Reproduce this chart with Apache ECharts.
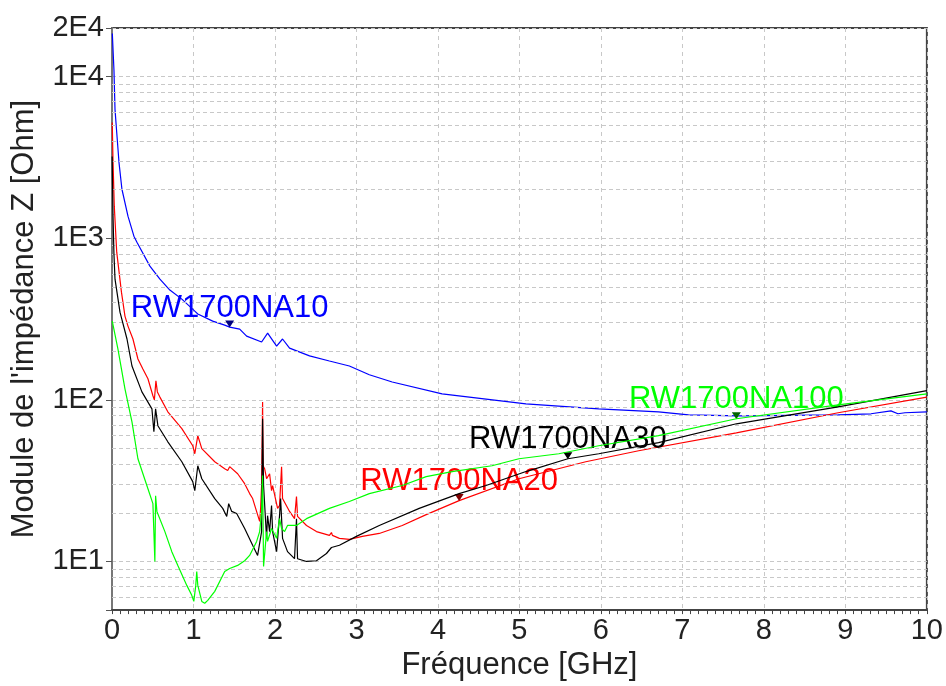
<!DOCTYPE html>
<html><head><meta charset="utf-8">
<script src="https://cdn.jsdelivr.net/npm/echarts@6/dist/echarts.min.js"></script>
<style>html,body{margin:0;padding:0;background:#fff}#c{width:946px;height:686px}</style>
</head><body><div id="c"></div>
<script>
// Frequency [GHz], |Z| [Ohm]
const NA10 = [[0.004,18500],[0.024,11000],[0.037,6250],[0.058,4510],[0.086,2940],[0.122,2010],[0.196,1370],[0.269,1030],[0.306,945],[0.465,672],[0.588,558],[0.71,478],[0.857,420],[1.016,354],[1.053,340],[1.236,307],[1.383,290],[1.444,282],[1.567,274],[1.652,248],[1.836,228],[1.91,259],[2.02,215],[2.093,238],[2.179,209],[2.424,187],[2.668,174],[2.913,162],[3.158,143],[3.439,129],[4.051,109],[5.08,94.5],[5.973,88],[6.707,84.3],[7.075,80.8],[7.687,79.7],[8.911,80.8],[9.315,82],[9.559,85.5],[9.645,82],[9.731,83.2],[10,84.3]];
const NA20 = [[0.003,5200],[0.012,3070],[0.028,1580],[0.058,820],[0.116,464],[0.159,330],[0.196,286],[0.257,238],[0.318,179],[0.379,155],[0.441,135],[0.502,106],[0.52,100],[0.539,131],[0.557,112],[0.588,104],[0.685,84.3],[0.857,66.3],[0.991,52],[1.016,46.4],[1.053,60],[1.102,49.9],[1.261,41.4],[1.383,37.5],[1.42,36.5],[1.444,38.6],[1.542,34.9],[1.628,30.3],[1.689,26.3],[1.726,24.5],[1.812,17.7],[1.824,21.3],[1.836,29.5],[1.848,97],[1.854,39.1],[1.873,37.5],[1.897,32.5],[1.934,34.9],[1.958,27.4],[1.971,29.5],[2.032,21.3],[2.056,22.2],[2.081,38.6],[2.093,24.5],[2.179,20.4],[2.24,18.4],[2.264,25.2],[2.277,19],[2.387,16.7],[2.509,15.3],[2.668,14.5],[2.693,15.1],[2.705,14.5],[2.791,13.9],[2.913,13.7],[3.072,14.3],[3.28,14.9],[3.562,16.7],[3.856,19.5],[4.26,23.8],[4.994,32.5],[5.814,41.4],[6.463,48.4],[7.662,62.5],[8.911,83.2],[10,104]];
const NA30 = [[0.002,3210],[0.012,1410],[0.024,796],[0.037,558],[0.098,349],[0.184,238],[0.245,162],[0.367,112],[0.49,88],[0.514,63.5],[0.535,88],[0.563,69.2],[0.685,55],[0.857,41.4],[0.991,31.2],[1.016,27.4],[1.053,39.1],[1.102,32.5],[1.261,24.5],[1.359,21.3],[1.408,19],[1.432,22.8],[1.469,20.4],[1.53,19.8],[1.628,16],[1.726,12.6],[1.787,10.9],[1.836,15.3],[1.848,76.4],[1.86,29.5],[1.897,13.9],[1.909,19.2],[1.934,15.3],[1.958,22.2],[1.971,15.3],[2.02,11.5],[2.056,19.2],[2.069,24.5],[2.093,13.9],[2.154,11.5],[2.24,10.4],[2.264,18.4],[2.277,10.4],[2.387,10],[2.509,10.1],[2.632,11.2],[2.693,12.2],[2.791,12.6],[2.999,14.3],[3.28,16.7],[3.77,21.3],[4.26,26.3],[4.59,29.5],[5.08,36],[5.594,43.2],[5.973,46.4],[6.707,54.3],[7.662,71.1],[8.911,90.5],[10,114]];
const NA100 = [[0.003,307],[0.073,206],[0.159,117],[0.245,73.1],[0.318,43.2],[0.441,28.2],[0.502,22.8],[0.514,22.2],[0.526,10],[0.535,25.5],[0.551,20.4],[0.649,15.3],[0.734,11.5],[0.808,9.45],[0.918,7.11],[0.979,6.17],[1.004,5.66],[1.028,7.11],[1.04,8.67],[1.053,7.11],[1.102,5.66],[1.138,5.51],[1.175,5.74],[1.261,6.53],[1.383,8.67],[1.444,9.05],[1.542,9.45],[1.628,10.1],[1.689,10.9],[1.775,13.3],[1.812,15.3],[1.836,20.4],[1.848,34],[1.86,9.3],[1.897,15.3],[1.909,13.3],[1.958,16],[2.02,13.9],[2.056,18.4],[2.081,16],[2.118,15.3],[2.154,16.7],[2.264,16.7],[2.387,18.4],[2.668,21.3],[2.913,23.5],[3.158,26.3],[3.562,29.5],[3.856,33.5],[4.174,36],[4.663,39.1],[4.994,43.2],[5.483,46.4],[5.973,52],[6.707,60],[7.662,76.4],[8.911,93.1],[10,109]];

const seriesNames = ['RW1700NA10','RW1700NA20','RW1700NA30','RW1700NA100'];
const labelFreqs = [1.444, 4.26, 5.594, 7.662];
const xTicks = [0,1,2,3,4,5,6,7,8,9,10];
const yTickValues = [10,100,1000,10000,20000];
const yTickLabels = ['1E1','1E2','1E3','1E4','2E4'];
const yMinorGrid = [6,7,8,9,20,30,40,50,60,70,80,90,200,300,400,500,600,700,800,900,2000,3000,4000,5000,6000,7000,8000,9000];

const lineColors = ['#0000ff','#ff0000','#000000','#00ff00'];
const markerColors = ['#000080','#800000','#000000','#006400'];
const FONT = "'Liberation Sans', Arial, sans-serif";
const datasets = [NA10, NA20, NA30, NA100];

function nearestIndex(data, f){
  let best = 0, bd = Infinity;
  data.forEach((p,i)=>{ const d = Math.abs(p[0]-f); if(d<bd){bd=d;best=i;} });
  return best;
}

const dataSeries = datasets.map((data, i) => {
  const pt = data[nearestIndex(data, labelFreqs[i])];
  return {
    name: seriesNames[i], type: 'line', data: data, showSymbol: false, symbol: 'none',
    z: 3 + (i === 0 ? 0 : i), animation: false,
    lineStyle: { color: lineColors[i], width: 1.2 },
    markPoint: {
      animation: false, silent: true,
      data: [{ coord: pt, symbol: 'triangle', symbolRotate: 180, symbolSize: [9, 7], symbolOffset: [0, -3],
        itemStyle: { color: markerColors[i] },
        label: { show: true, position: 'top', distance: -3, formatter: seriesNames[i],
          color: lineColors[i], fontSize: 31, fontFamily: FONT } }]
    }
  };
});

const gridSeries = {
  type: 'line', data: [], silent: true, z: 1, animation: false,
  markLine: { silent: true, animation: false, symbol: ['none','none'], label: { show: false },
    lineStyle: { color: '#c8c8c8', type: [4,3], width: 1 },
    data: yMinorGrid.map(v => ({ yAxis: v })) }
};

const chart = echarts.init(document.getElementById('c'), null, { renderer: 'canvas' });
chart.setOption({
  animation: false,
  backgroundColor: '#fff',
  textStyle: { fontFamily: FONT },
  grid: { left: 112, right: 17, top: 28, bottom: 74, show: true, borderColor: '#444', borderWidth: 2, backgroundColor: 'transparent' },
  xAxis: {
    type: 'value', min: xTicks[0], max: xTicks[xTicks.length-1], interval: 1,
    name: 'Fréquence [GHz]', nameLocation: 'middle', nameGap: 37,
    nameTextStyle: { fontSize: 31, color: '#222', fontFamily: FONT },
    axisLine: { lineStyle: { color: '#444', width: 2 } },
    axisTick: { show: true, length: 4, lineStyle: { color: '#444' } },
    minorTick: { show: true, splitNumber: 10, length: 4, lineStyle: { color: '#444' } },
    axisLabel: { fontSize: 29, color: '#222', margin: 6, fontFamily: FONT },
    splitLine: { show: true, lineStyle: { color: '#c8c8c8', type: [4,4], width: 1 } }
  },
  yAxis: {
    type: 'log', logBase: 10, min: 5, max: 20000,
    name: "Module de l'impédance Z [Ohm]", nameLocation: 'middle', nameGap: 72,
    nameTextStyle: { fontSize: 31, color: '#222', fontFamily: FONT },
    axisLine: { lineStyle: { color: '#777', width: 2 } },
    axisTick: { show: true, length: 6, lineStyle: { color: '#555' } },
    axisLabel: { fontSize: 29, color: '#222', margin: 8, fontFamily: FONT,
      formatter: function (v) {
        for (let k = 0; k < yTickValues.length; k++) {
          if (Math.abs(Math.log10(v) - Math.log10(yTickValues[k])) < 1e-6) return yTickLabels[k];
        }
        return '';
      } },
    splitLine: { show: true, lineStyle: { color: '#c8c8c8', type: [4,3], width: 1 } }
  },
  series: [gridSeries].concat(dataSeries)
});
</script></body></html>
